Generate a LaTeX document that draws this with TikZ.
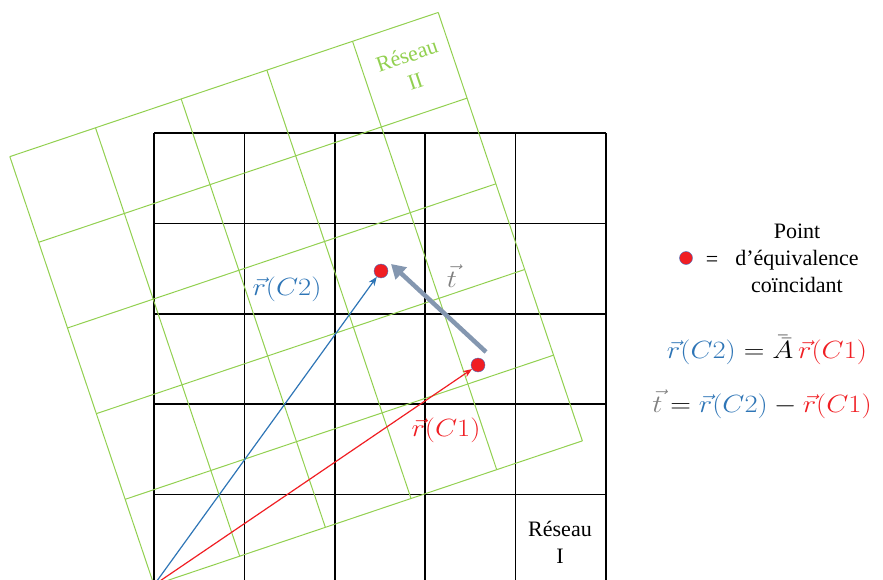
\documentclass[tikz,border=0pt]{standalone}
\usepackage{fontspec}
\setmainfont{Liberation Serif}
\usepackage{graphicx}
\usetikzlibrary{arrows.meta}
\definecolor{lgreen}{HTML}{92D050}
\definecolor{vblue}{HTML}{2E75B6}
\definecolor{vred}{HTML}{F01E23}
\definecolor{tgray}{HTML}{8497B0}
\definecolor{tgtext}{HTML}{7F7F7F}
\definecolor{dotborder}{HTML}{4472C4}
\newcommand{\wideit}[1]{\scalebox{1.15}[1]{#1}}
\tikzset{
  blackline/.style={line width=1.6pt, black},
  greenline/.style={line width=1.0pt, lgreen},
  eqdot/.style={circle, fill=vred, draw=dotborder, line width=0.4pt, minimum size=14pt, inner sep=0pt},
  vecarrow/.style={line width=1.2pt, -{Stealth[length=9pt,width=7pt]}},
  tarrow/.style={line width=4.5pt, tgray, -{Triangle[length=14pt,width=16pt]}},
  lbl/.style={font=\fontsize{22}{27}\selectfont, align=center, inner sep=0pt},
  mathlbl/.style={font=\fontsize{26}{30}\selectfont, inner sep=0pt},
}
\begin{document}
\begin{tikzpicture}[x=1pt,y=-1pt]
\useasboundingbox (0,0) rectangle (883,580);
\clip (0,0) rectangle (883,580);
% black lattice (Reseau I)
\foreach \i in {0,...,5} {
  \draw[blackline] (154+90.4*\i,133) -- (154+90.4*\i,590);
  \draw[blackline] (154,133+90.4*\i) -- (606,133+90.4*\i);
}
% green lattice (Reseau II)
\begin{scope}[shift={(154,585)}, rotate=18.6, x=90.4pt, y=90.4pt]
  \foreach \i in {0,...,5} {
    \draw[greenline] (\i,0) -- (\i,5);
    \draw[greenline] (0,\i) -- (5,\i);
  }
\end{scope}
% points
\coordinate (O) at (154,585);
\node[eqdot] (c2) at (381,271) {};
\node[eqdot] (c1) at (478,365) {};
\draw[vecarrow, vblue] (O) -- (c2);
\draw[vecarrow, vred] (O) -- (c1);
\coordinate (ts) at (486,352);
\coordinate (te) at (391,264);
\draw[tarrow] (ts) -- (te);
% labels
\node[mathlbl, text=vblue] (lc2) at (287,289) {\wideit{$\vec{r}(C2)$}};
\node[mathlbl, text=tgtext] (lt) at (452,276) {\wideit{$\vec{t}$}};
\node[mathlbl, text=vred] (lc1) at (446,430) {\wideit{$\vec{r}(C1)$}};
\node[lbl, text=lgreen, rotate=18.6] (r2) at (411,68) {Réseau\\II};
\node[lbl] (r1) at (560,542) {Réseau\\I};
% legend
\node[eqdot, minimum size=13pt] (ldot) at (686,258) {};
\node[lbl] (leq) at (712,261) {=};
\node[lbl] (ltext) at (797,258) {Point\\d’équivalence\\coïncidant};
\node[mathlbl] (eq1) at (767,350) {\wideit{${\color{vblue}\vec{r}(C2)} = \bar{\bar{A}}\,{\color{vred}\vec{r}(C1)}$}};
\node[mathlbl] (eq2) at (762,404) {\wideit{${\color{tgtext}\vec{t}} = {\color{vblue}\vec{r}(C2)} - {\color{vred}\vec{r}(C1)}$}};
\end{tikzpicture}
\end{document}
